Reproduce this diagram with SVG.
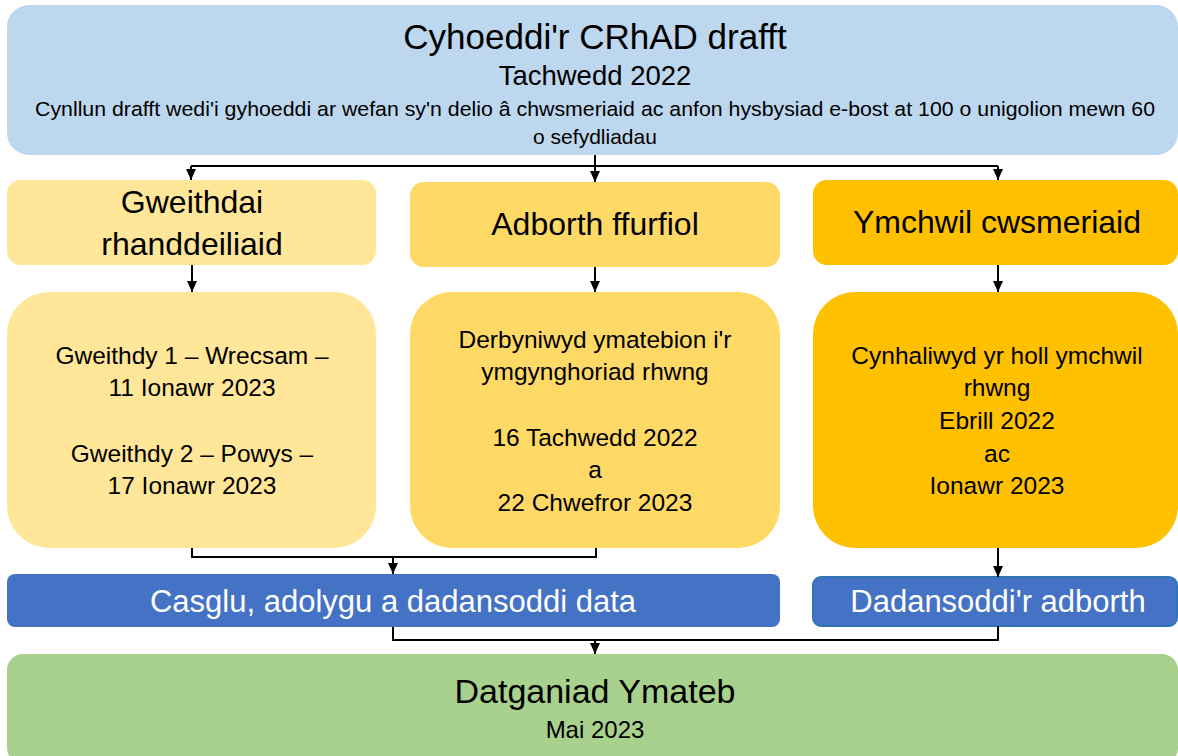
<svg xmlns="http://www.w3.org/2000/svg" width="1178" height="756" viewBox="0 0 1178 756">
<defs>
<marker id="arr" markerUnits="userSpaceOnUse" markerWidth="11" markerHeight="12" refX="11" refY="5" orient="auto">
<path d="M0,0 L11,5 L0,10 z" fill="#000"/>
</marker>
<style>
text{font-family:"Liberation Sans",Arial,sans-serif;text-anchor:middle;fill:#000}
.w{fill:#fff}
.c{fill:none;stroke:#000;stroke-width:2}
.a{marker-end:url(#arr)}
</style>
</defs>
<rect width="1178" height="756" fill="#fff"/>
<g id="n-top">
<rect x="7" y="5" width="1171" height="150" rx="22" fill="#BDD7EE"/>
<text x="595" y="49" font-size="35">Cyhoeddi'r CRhAD drafft</text>
<text x="595" y="85" font-size="27.5">Tachwedd 2022</text>
<text x="595" y="116" font-size="20.5" textLength="1120" lengthAdjust="spacingAndGlyphs">Cynllun drafft wedi'i gyhoeddi ar wefan sy'n delio â chwsmeriaid ac anfon hysbysiad e-bost at 100 o unigolion mewn 60</text>
<text x="595" y="144" font-size="21">o sefydliadau</text>
</g>
<g id="n-gweithdai">
<rect x="7" y="180" width="369" height="85" rx="14" fill="#FFE699"/>
<text x="192" y="213" font-size="32">Gweithdai</text>
<text x="192" y="255" font-size="32">rhanddeiliaid</text>
</g>
<g id="n-adborth">
<rect x="410" y="182" width="370" height="85" rx="14" fill="#FFD966"/>
<text x="595" y="235" font-size="32">Adborth ffurfiol</text>
</g>
<g id="n-ymchwil">
<rect x="813" y="180" width="365" height="85" rx="14" fill="#FFC000"/>
<text x="997" y="233" font-size="32">Ymchwil cwsmeriaid</text>
</g>
<g id="n-gweithdy">
<rect x="7" y="292" width="369" height="256" rx="42" fill="#FFE699"/>
<text x="192" y="364" font-size="24.5">Gweithdy 1 – Wrecsam –</text>
<text x="192" y="396" font-size="24.5">11 Ionawr 2023</text>
<text x="192" y="462" font-size="24.5">Gweithdy 2 – Powys –</text>
<text x="192" y="494" font-size="24.5">17 Ionawr 2023</text>
</g>
<g id="n-derbyniwyd">
<rect x="410" y="292" width="370" height="256" rx="42" fill="#FFD966"/>
<text x="595" y="348" font-size="24.5">Derbyniwyd ymatebion i'r</text>
<text x="595" y="380" font-size="24.5">ymgynghoriad rhwng</text>
<text x="595" y="446" font-size="24.5">16 Tachwedd 2022</text>
<text x="595" y="478" font-size="24.5">a</text>
<text x="595" y="511" font-size="24.5">22 Chwefror 2023</text>
</g>
<g id="n-cynhaliwyd">
<rect x="813" y="292" width="365" height="256" rx="42" fill="#FFC000"/>
<text x="997" y="364" font-size="24.5">Cynhaliwyd yr holl ymchwil</text>
<text x="997" y="396" font-size="24.5">rhwng</text>
<text x="997" y="429" font-size="24.5">Ebrill 2022</text>
<text x="997" y="462" font-size="24.5">ac</text>
<text x="997" y="494" font-size="24.5">Ionawr 2023</text>
</g>
<g id="n-casglu">
<rect x="7" y="574" width="773" height="53" rx="8" fill="#4472C4"/>
<text class="w" x="393" y="612" font-size="31">Casglu, adolygu a dadansoddi data</text>
</g>
<g id="n-dadansoddi">
<rect x="813" y="577" width="364" height="49" rx="8" fill="#4472C4" stroke="#2E75B6" stroke-width="2"/>
<text class="w" x="998" y="612" font-size="31">Dadansoddi'r adborth</text>
</g>
<g id="n-datganiad">
<rect x="7" y="654" width="1171" height="110" rx="16" fill="#A9D18E"/>
<text x="595" y="703" font-size="34">Datganiad Ymateb</text>
<text x="595" y="738" font-size="24">Mai 2023</text>
</g>
<g id="connectors">
<path class="c" d="M595,155 V166 M191,166 H998"/>
<path class="c a" d="M191,166 V180"/>
<path class="c a" d="M595,166 V182"/>
<path class="c a" d="M998,166 V180"/>
<path class="c a" d="M192,265 V292"/>
<path class="c a" d="M595,267 V292"/>
<path class="c a" d="M998,265 V292"/>
<path class="c" d="M192,548 V557 H596 V548"/>
<path class="c a" d="M393,557 V574"/>
<path class="c a" d="M998,548 V577"/>
<path class="c" d="M393,627 V640 H998 V626"/>
<path class="c a" d="M595,640 V654"/>
</g>
</svg>
